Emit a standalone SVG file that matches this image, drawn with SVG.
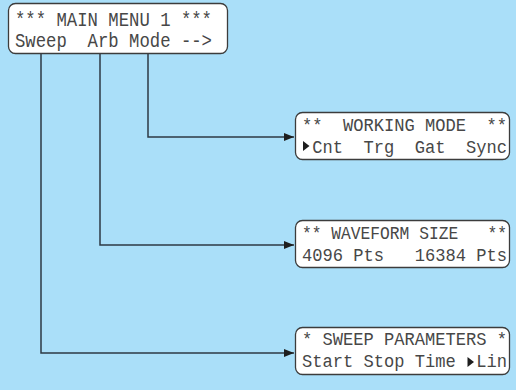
<svg xmlns="http://www.w3.org/2000/svg" width="516" height="390" viewBox="0 0 516 390">
<style>
.box{fill:#fff;stroke:#3c3c3c;stroke-width:1.3}
.t{font-family:"Liberation Mono","Courier New",monospace;fill:#474747;white-space:pre}
.m{font-size:21px}
.s{font-size:18px}
.c{fill:none;stroke:#2e3a44;stroke-width:1.5}
</style>
<defs>
<marker id="ah" markerWidth="10" markerHeight="8" refX="10" refY="4" orient="auto" markerUnits="userSpaceOnUse">
<path d="M0,0 L10,4 L0,8 Z" fill="#1e1e1e"/>
</marker>
</defs>
<rect width="516" height="390" fill="#aadff9"/>
<g id="connectors">
<polyline class="c" points="148,53 148,137 294,137" marker-end="url(#ah)"/>
<polyline class="c" points="100,53 100,245 294,245" marker-end="url(#ah)"/>
<polyline class="c" points="41,53 41,353 294,353" marker-end="url(#ah)"/>
</g>
<g id="main-menu">
<rect class="box" x="8.5" y="3.5" width="219" height="50" rx="7"/>
<text class="t m" x="15" y="26" textLength="197" lengthAdjust="spacingAndGlyphs" xml:space="preserve">*** MAIN MENU 1 ***</text>
<text class="t m" x="15" y="47" textLength="197" lengthAdjust="spacingAndGlyphs" xml:space="preserve">Sweep  Arb Mode --&gt;</text>
</g>
<g id="working-mode">
<rect class="box" x="295.5" y="112.5" width="214" height="47" rx="7"/>
<text class="t s" x="302" y="131" textLength="205" lengthAdjust="spacingAndGlyphs" xml:space="preserve">**  WORKING MODE  **</text>
<polygon points="303,141 303,151 309.5,146" fill="#1e1e1e"/>
<text class="t s" x="312.25" y="153" textLength="194.75" lengthAdjust="spacingAndGlyphs" xml:space="preserve">Cnt  Trg  Gat  Sync</text>
</g>
<g id="waveform-size">
<rect class="box" x="295.5" y="220.5" width="214" height="47" rx="7"/>
<text class="t s" x="302" y="238.5" textLength="205" lengthAdjust="spacingAndGlyphs" xml:space="preserve">** WAVEFORM SIZE   **</text>
<text class="t s" x="302" y="260.5" textLength="205" lengthAdjust="spacingAndGlyphs" xml:space="preserve">4096 Pts   16384 Pts</text>
</g>
<g id="sweep-parameters">
<rect class="box" x="295.5" y="327.5" width="214" height="47" rx="7"/>
<text class="t s" x="302" y="345" textLength="205" lengthAdjust="spacingAndGlyphs" xml:space="preserve">* SWEEP PARAMETERS *</text>
<text class="t s" x="302" y="366.5" textLength="153.75" lengthAdjust="spacingAndGlyphs" xml:space="preserve">Start Stop Time</text>
<polygon points="467.5,357 467.5,367 474,362" fill="#1e1e1e"/>
<text class="t s" x="476.25" y="366.5" textLength="30.75" lengthAdjust="spacingAndGlyphs">Lin</text>
</g>
</svg>
